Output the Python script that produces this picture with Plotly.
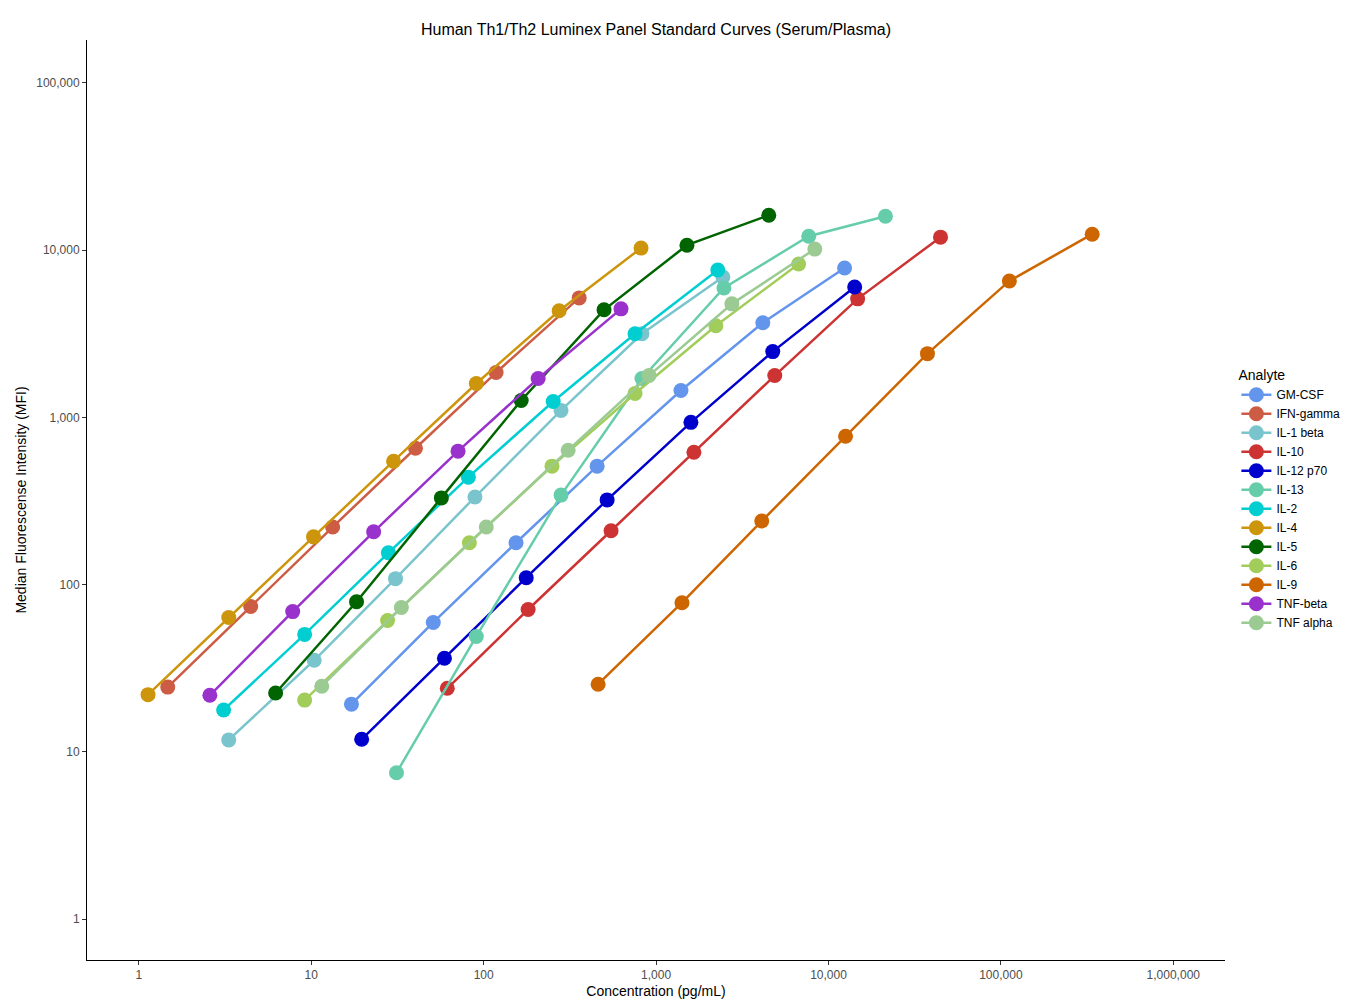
import plotly.graph_objects as go

analytes = ["GM-CSF", "IFN-gamma", "IL-1 beta", "IL-10", "IL-12 p70", "IL-13",
            "IL-2", "IL-4", "IL-5", "IL-6", "IL-9", "TNF-beta", "TNF alpha"]
colors = ["#6495ED", "#CD5C45", "#7AC5CD", "#CD3333", "#0000CD", "#66CDAA",
          "#00CED1", "#CD950C", "#006400", "#A2CD5A", "#CD6600", "#9932CC", "#9BCB93"]

conc = {
    "GM-CSF": [17.1, 51, 154, 455, 1394, 4160, 12400],
    "IFN-gamma": [1.47, 4.45, 13.3, 40.2, 118, 358],
    "IL-1 beta": [3.32, 10.4, 30.8, 89, 281, 828, 2440],
    "IL-10": [61.5, 181, 548, 1657, 4880, 14760, 44650],
    "IL-12 p70": [19.6, 59.2, 176.5, 520, 1592, 4750, 14190],
    "IL-13": [31.2, 90.6, 281, 828, 2474, 7680, 21400],
    "IL-2": [3.1, 9.15, 28, 81.5, 253, 755, 2280],
    "IL-4": [1.13, 3.32, 10.3, 30, 90.6, 274, 818],
    "IL-5": [6.21, 18.3, 56.8, 165, 499, 1510, 4505],
    "IL-6": [9.15, 27.7, 82.6, 249, 755, 2222, 6710],
    "IL-9": [461, 1413, 4100, 12560, 37500, 112000, 338500],
    "TNF-beta": [2.58, 7.8, 23, 71, 207, 626],
    "TNF alpha": [11.5, 33.3, 103.5, 309, 910, 2752, 8330],
}
mfi = {
    "GM-CSF": [19.3, 59.4, 178, 511, 1448, 3675, 7810],
    "IFN-gamma": [24.4, 74, 221, 654, 1853, 5180],
    "IL-1 beta": [11.8, 35.3, 108.6, 334, 1101, 3162, 6900],
    "IL-10": [24, 71, 210, 619, 1778, 5110, 11950],
    "IL-12 p70": [11.9, 36.3, 110, 321, 934, 2472, 6020],
    "IL-13": [7.5, 49, 343, 1707, 5940, 12110, 15930],
    "IL-2": [17.8, 50.4, 155, 439, 1245, 3162, 7600],
    "IL-4": [22, 63.6, 193, 547, 1594, 4335, 10280],
    "IL-5": [22.5, 79, 330, 1262, 4396, 10700, 16150],
    "IL-6": [20.4, 61, 178, 511, 1389, 3530, 8260],
    "IL-9": [25.4, 78, 240, 771, 2404, 6540, 12450],
    "TNF-beta": [21.8, 69, 207, 628, 1707, 4454],
    "TNF alpha": [24.7, 73, 221, 636, 1778, 4770, 10140],
}

x_ticks = [1, 10, 100, 1000, 10000, 100000, 1000000]
y_ticks = [1, 10, 100, 1000, 10000, 100000]

fig = go.Figure()
for name, col in zip(analytes, colors):
    fig.add_trace(go.Scatter(
        x=conc[name], y=mfi[name], mode="lines+markers", name=name,
        line=dict(color=col, width=2.5),
        marker=dict(color=col, size=15),
    ))

fig.update_layout(
    width=1350, height=1000,
    paper_bgcolor="white", plot_bgcolor="white",
    font=dict(family="Liberation Sans, Arial", color="black"),
    title=dict(text="Human Th1/Th2 Luminex Panel Standard Curves (Serum/Plasma)",
               x=0.48, xanchor="center", y=0.984, font=dict(size=16)),
    margin=dict(l=77, r=133, t=32, b=45),
    legend=dict(title=dict(text="Analyte", font=dict(size=14)), font=dict(size=12),
                x=1.01, xanchor="left", y=0.5, yanchor="middle", tracegroupgap=0),
)
fig.update_xaxes(type="log", range=[-0.301, 6.30], tickvals=x_ticks,
                 ticktext=[f"{v:,}" for v in x_ticks],
                 showline=True, linecolor="black", showgrid=False, zeroline=False,
                 ticks="outside", ticklen=4, tickcolor="#333",
                 tickfont=dict(size=12, color="#4D4D4D"),
                 title=dict(text="Concentration (pg/mL)", font=dict(size=14), standoff=4))
fig.update_yaxes(type="log", range=[-0.244, 5.256], tickvals=y_ticks,
                 ticktext=[f"{v:,}" for v in y_ticks],
                 showline=True, linecolor="black", showgrid=False, zeroline=False,
                 ticks="outside", ticklen=4, tickcolor="#333",
                 tickfont=dict(size=12, color="#4D4D4D"),
                 title=dict(text="Median Fluorescense Intensity (MFI)", font=dict(size=14), standoff=6))

fig.write_html("out.html")
